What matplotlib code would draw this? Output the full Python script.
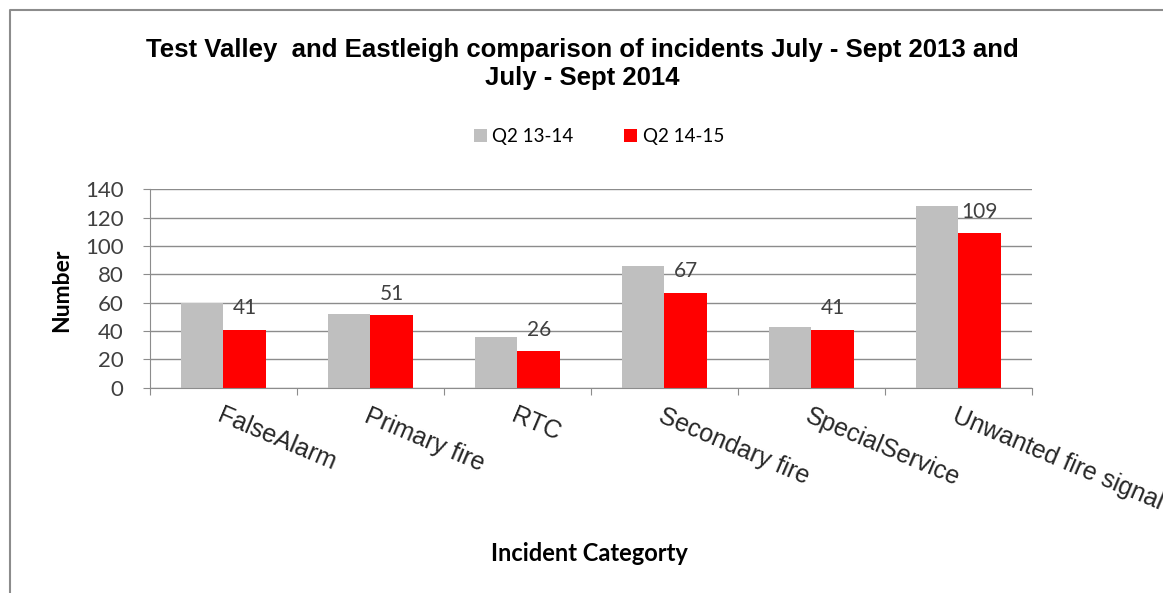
import matplotlib
matplotlib.use('Agg')
import matplotlib.pyplot as plt
import numpy as np
from matplotlib.lines import Line2D

# Datos
categorias = ['FalseAlarm', 'Primary fire', 'RTC', 'Secondary fire', 'SpecialService', 'Unwanted fire signal']
q2_13_14 = [60, 52, 36, 86, 43, 128]
q2_14_15 = [41, 51, 26, 67, 41, 109]
series = ['Q2 13-14', 'Q2 14-15']
titulo = 'Test Valley  and Eastleigh comparison of incidents July - Sept 2013 and\nJuly - Sept 2014'

gris = '#BFBFBF'
rojo = '#FF0000'
fuente_calibri = ['Lato', 'DejaVu Sans']
fuente_arial = ['Liberation Sans', 'DejaVu Sans']

fig = plt.figure(figsize=(11.63, 5.93), dpi=100)
ax = fig.add_axes([0.129, 0.346, 0.758, 0.335])

x = np.arange(len(categorias))
ancho = 0.29
b1 = ax.bar(x - ancho / 2, q2_13_14, ancho, color=gris, label=series[0])
b2 = ax.bar(x + ancho / 2, q2_14_15, ancho, color=rojo, label=series[1])

for rect, v in zip(b2, q2_14_15):
    ax.text(rect.get_x() + rect.get_width() / 2, v + 8, str(v), ha='center', va='bottom',
            fontsize=15, color='#404040', family=fuente_calibri)

ax.set_xlim(-0.5, len(categorias) - 0.5)
ax.set_ylim(0, 140)
ax.set_yticks(range(0, 141, 20))
ax.yaxis.grid(True, color='#8C8C8C', linewidth=1)
ax.set_axisbelow(True)
for lado in ['top', 'right']:
    ax.spines[lado].set_visible(False)
ax.spines['left'].set_color('#8C8C8C')
ax.spines['bottom'].set_color('#8C8C8C')
ax.tick_params(axis='y', length=5, pad=14, color='#8C8C8C', labelsize=16, labelcolor='#404040')
for t in ax.get_yticklabels():
    t.set_family(fuente_calibri)

# marcas entre categorias y etiquetas giradas
ax.set_xticks(np.arange(len(categorias) + 1) - 0.5)
ax.set_xticklabels([])
ax.tick_params(axis='x', length=5, color='#8C8C8C')
for i, c in enumerate(categorias):
    ax.text(i, -11, c, rotation=-23, rotation_mode='anchor', ha='left', va='top',
            fontsize=18, color='#262626', family=fuente_arial, clip_on=False)

fig.text(0.053, 0.511, 'Number', rotation=90, ha='center', va='center', fontsize=16.5,
         fontweight='bold', family=fuente_calibri)
fig.text(0.507, 0.067, 'Incident Categorty', ha='center', va='center', fontsize=17,
         fontweight='bold', family=fuente_calibri)

fig.text(0.501, 0.892, titulo, ha='center', va='center', fontsize=18.5, fontweight='bold',
         family=fuente_arial, linespacing=1.2)

fig.legend(handles=[b1, b2], labels=series, loc='center', bbox_to_anchor=(0.515, 0.769),
           ncol=2, frameon=False, handlelength=0.7, handleheight=0.7,
           columnspacing=2.7, handletextpad=0.3, prop={'family': fuente_calibri, 'size': 13.5})

# borde del grafico
fig.add_artist(Line2D([0.0086, 0.0086, 1.0], [0.0, 0.983, 0.983], transform=fig.transFigure,
                      color='#8C8C8C', linewidth=1.5))

fig.savefig('out.png', dpi=100)
